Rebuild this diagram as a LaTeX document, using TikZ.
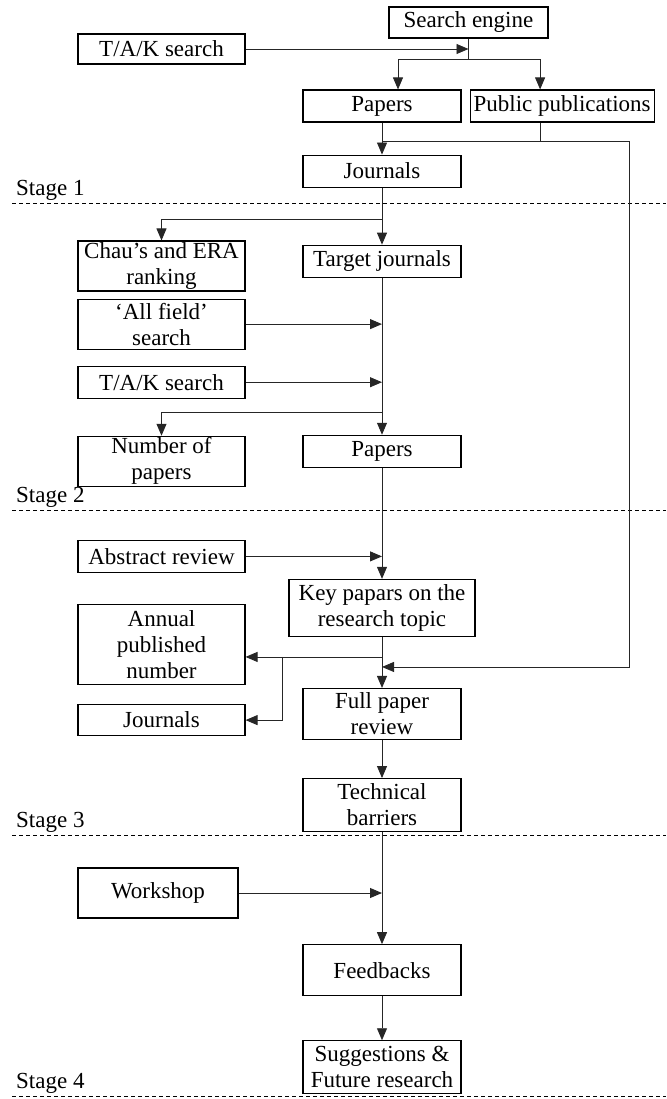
\documentclass[tikz,border=0pt]{standalone}
\usepackage{fontspec}
\setmainfont{Liberation Serif}
\usetikzlibrary{arrows.meta,positioning}

\begin{document}
\begin{tikzpicture}[
  x=1pt, y=-1pt,
  font=\fontsize{23}{26}\selectfont,
  box/.style={draw,line width=1.1pt,align=center,inner sep=1pt,minimum height=32pt},
  mainbox/.style={box,minimum width=158pt},
  sidebox/.style={box,minimum width=167pt},
  conn/.style={line width=0.9pt,black!85},
  arr/.style={conn,-{Triangle[length=12pt,width=10pt]}},
  stageline/.style={line width=1pt,dash pattern=on 4pt off 3pt},
  stagelbl/.style={anchor=base west,inner sep=0pt}
]
\useasboundingbox (0,0) rectangle (666,1099);

% Stage separators
\foreach \y/\s in {204/1,510/2,835/3,1096/4} {
  \draw[stageline] (12,\y) -- (666,\y);
  \node[stagelbl] (st\s) at (16,\y-8) {Stage \s};
}

% Search stage
\node[box,minimum width=159pt,minimum height=31pt] (se) at (468.5,22.5) {Search engine};
\node[sidebox,minimum height=30pt] (tak1) at (161.5,49) {T/A/K search};
\node[mainbox] (pap1) at (382,106) {Papers};
\node[box,minimum width=184pt,right=8pt of pap1] (pub) {Public publications};
\node[mainbox,below=32pt of pap1] (jour1) {Journals};

% Main column
\node[mainbox,below=57pt of jour1] (tgt) {Target journals};
\node[mainbox,below=157pt of tgt] (pap2) {Papers};
\node[mainbox,minimum width=186pt,minimum height=57pt,below=111pt of pap2] (key) {Key papars on the\\research topic};
\node[mainbox,minimum height=51pt,below=51pt of key] (full) {Full paper\\review};
\node[mainbox,minimum height=53pt,below=38pt of full] (tech) {Technical\\barriers};
\node[mainbox,minimum height=51pt,below=112pt of tech] (feed) {Feedbacks};
\node[mainbox,minimum height=53pt,below=44pt of feed] (sugg) {Suggestions \&\\Future research};

% Side column
\node[sidebox,minimum height=50pt] (chau) at (161.5,266) {Chau’s and ERA\\ranking};
\node[sidebox,minimum height=50pt,below=7pt of chau] (allf) {‘All field’\\search};
\node[sidebox,below=16pt of allf] (tak2) {T/A/K search};
\node[sidebox,minimum height=50pt,below=37pt of tak2] (nump) {Number of\\papers};
\node[sidebox,below=53pt of nump] (abs) {Abstract review};
\node[sidebox,minimum height=80pt,below=31pt of abs] (ann) {Annual\\published\\number};
\node[sidebox,minimum height=31pt,below=19pt of ann] (jour2) {Journals};
\node[sidebox,minimum width=160pt,minimum height=50pt] (work) at (158,893) {Workshop};

% Connections
\draw[conn] (se.south) -- ++(0,21) coordinate (sp);
\draw[arr] (tak1) -- (tak1 -| sp);
\draw[arr] (sp) -| ([xshift=16pt]pap1.north);
\draw[arr] (sp) -| ([xshift=-22pt]pub.north);
\draw[arr] (pap1) -- (jour1);
\draw[conn] ([xshift=-22pt]pub.south) -- ++(0,19) coordinate (pm);
\draw[arr] (pap1.south |- pm) -- (pm) -- ++(89,0) |- ([yshift=21pt]full.north);

\coordinate (b1) at ([yshift=-32pt]jour1.south);
\draw[arr] (jour1) -- (tgt);
\draw[arr] (b1) -| (chau);
\draw[arr] (tgt) -- (pap2);
\draw[arr] (allf) -- (allf -| tgt.south);
\draw[arr] (tak2) -- (tak2 -| tgt.south);
\draw[arr] ([yshift=22pt]pap2.north) -| (nump);

\draw[arr] (pap2) -- (key);
\draw[arr] (abs) -- (abs -| key.north);
\draw[arr] (key) -- (full);
\coordinate (b3) at ([yshift=-20pt]key.south);
\draw[arr] (b3) -- (b3 -| ann.east);
\draw[arr] ([xshift=-100pt]b3) |- (jour2);
\draw[arr] (full) -- (tech);

\draw[arr] (tech) -- (feed);
\draw[arr] (work) -- (work -| feed.north);
\draw[arr] (feed) -- (sugg);

\end{tikzpicture}
\end{document}
